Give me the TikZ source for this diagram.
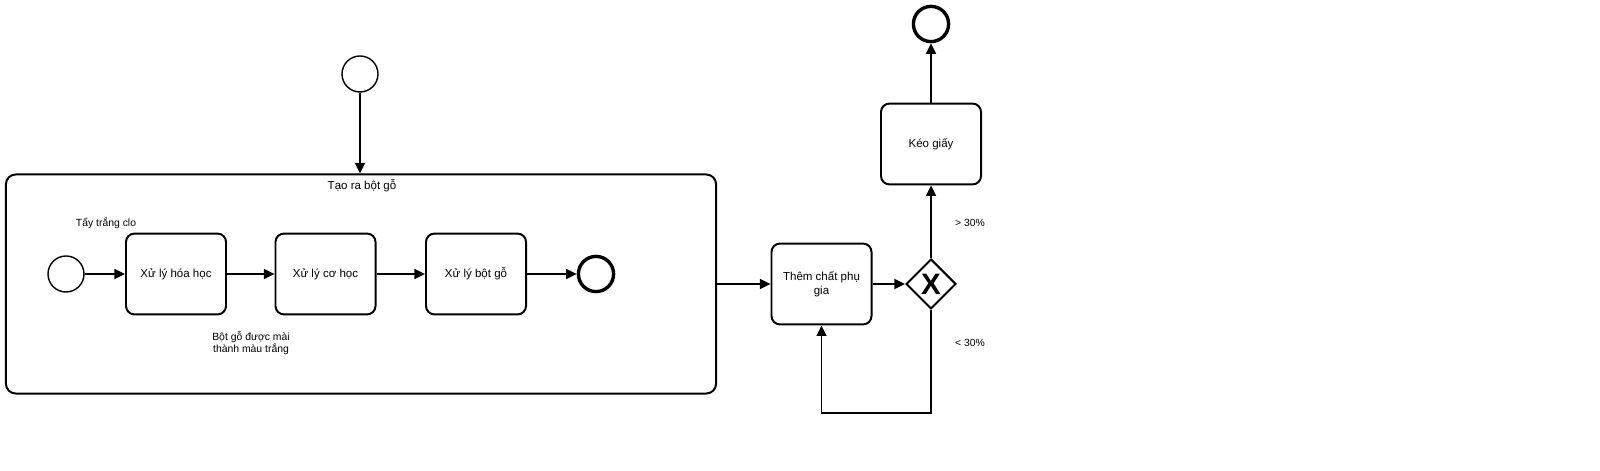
\documentclass[tikz,border=0pt]{standalone}
\usepackage{fontspec}
\setmainfont{Liberation Sans}
\usetikzlibrary{arrows.meta,shapes.geometric}

\tikzset{
    task/.style={draw, line width=1.4pt, rounded corners=6pt, minimum width=2.5cm, minimum height=2.02cm, inner sep=1pt, align=center, font=\fontsize{8.2}{10}\selectfont},
    startev/.style={draw, circle, line width=1pt, minimum size=0.9cm, inner sep=0pt},
    endev/.style={draw, circle, line width=2.4pt, minimum size=0.88cm, inner sep=0pt},
    flow/.style={line width=1.4pt, -{Triangle[length=7.5pt, width=7pt]}},
    lbl/.style={font=\fontsize{7.4}{9}\selectfont, align=center}
}

\begin{document}
\begin{tikzpicture}[x=0.025cm, y=-0.025cm]
    \useasboundingbox (0,0) rectangle (1600,471);
    % outer start and sub-process
    \node[startev] (start) at (360,74) {};
    \node[draw, line width=1.4pt, rounded corners=7pt, minimum width=17.75cm, minimum height=5.475cm, inner sep=0pt] (sub) at (361,284) {};
    \node[lbl, font=\fontsize{8.2}{10}\selectfont] (subtitle) at (362,186) {Tạo ra bột gỗ};
    % inside the sub-process
    \node[startev] (s) at (66,274) {};
    \node[task] (hoa) at (176,274) {Xử lý hóa học};
    \node[task] (co) at (325.5,274) {Xử lý cơ học};
    \node[task] (bot) at (476,274) {Xử lý bột gỗ};
    \node[endev] (e) at (596,274) {};
    \node[lbl] (tay) at (106,223) {Tẩy trắng clo};
    \node[lbl] (mai) at (251,343) {Bột gỗ được mài\\[-1pt]thành màu trắng};
    % after the sub-process
    \node[task] (them) at (821.5,284) {Thêm chất phụ\\gia};
    \node[draw, diamond, line width=1.4pt, minimum size=1.25cm, inner sep=0pt, font=\fontsize{21}{21}\selectfont\bfseries] (gw) at (931,284) {X};
    \node[task] (keo) at (931,144) {Kéo giấy};
    \node[endev] (end) at (931,24) {};
    \node[lbl] (gt) at (970,223) {> 30\%};
    \node[lbl] (lt) at (970,343) {< 30\%};
    \coordinate (loop) at (931,413);

    \draw[flow] (start) -- (start |- sub.north);
    \draw[flow] (s) -- (hoa);
    \draw[flow] (hoa) -- (co);
    \draw[flow] (co) -- (bot);
    \draw[flow] (bot) -- (e);
    \draw[flow] (sub.east) -- (them.west);
    \draw[flow] (them) -- (gw);
    \draw[flow] (gw.north) -- (keo.south);
    \draw[flow] (keo) -- (end);
    \draw[flow] (gw.south) -- (loop) -| (them.south);
\end{tikzpicture}
\end{document}
